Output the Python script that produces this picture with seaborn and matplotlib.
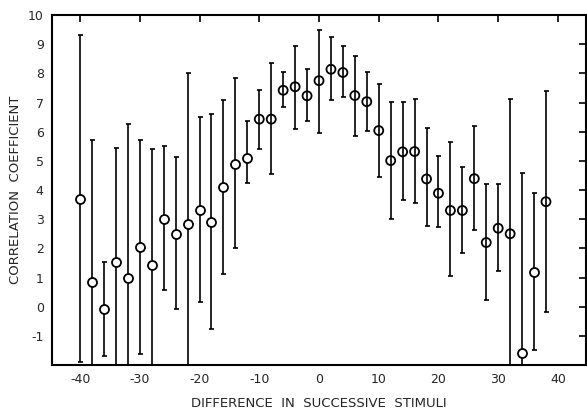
import numpy as np
import matplotlib
matplotlib.use("Agg")
import matplotlib.pyplot as plt
import seaborn as sns
import pandas as pd

# stimulus difference (x), correlation coefficient (x10) and error bar ends
diff = list(range(-40, 40, 2))
corr = [3.7, 0.83, -0.07, 1.53, 1.0, 2.03, 1.43, 3.02, 2.5, 2.83,
        3.3, 2.91, 4.09, 4.9, 5.11, 6.43, 6.43, 7.42, 7.54, 7.23,
        7.75, 8.14, 8.03, 7.24, 7.03, 6.04, 5.01, 5.31, 5.32, 4.38,
        3.89, 3.3, 3.3, 4.39, 2.2, 2.69, 2.5, -1.6, 1.19, 3.6]
upper = [9.3, 5.7, 1.52, 5.45, 6.25, 5.7, 5.41, 5.51, 5.13, 8.0,
         6.5, 6.6, 7.1, 7.83, 6.35, 7.44, 8.35, 8.05, 8.95, 8.15,
         9.5, 9.25, 8.95, 8.6, 8.05, 7.63, 7.03, 7.01, 7.12, 6.14,
         5.15, 5.63, 4.8, 6.21, 4.22, 4.22, 7.12, 4.59, 3.91, 7.4]
lower = [-1.9, -2.5, -1.68, -2.5, -2.5, -1.63, -2.5, 0.56, -0.07, -2.5,
         0.15, -0.76, 1.13, 2.02, 4.25, 5.42, 4.55, 6.86, 6.08, 6.38,
         5.97, 7.09, 7.18, 5.86, 6.03, 4.43, 3.02, 3.65, 3.54, 2.76,
         2.73, 1.04, 1.83, 2.64, 0.22, 1.23, -2.5, -2.5, -1.47, -0.17]

xticks = [-40, -30, -20, -10, 0, 10, 20, 30, 40]
xtick_labels = ["-40", "-30", "-20", "-10", "0", "10", "20", "30", "40"]
yticks = list(range(-1, 11))

df = pd.DataFrame({"diff": diff, "corr": corr, "upper": upper, "lower": lower})
# in the scan the bar shows through most circles in the middle part
see_through = ((df["diff"] >= -10) & (df["diff"] <= 32)) | (df["diff"] == 38)

sns.set_style("white")
plt.rcParams["font.family"] = ["DejaVu Sans"]

fig = plt.figure(figsize=(5.87, 4.12), dpi=100)
ax = fig.add_axes([0.0886, 0.114, 0.9097, 0.8495])

yerr = np.vstack([df["corr"] - df["lower"], df["upper"] - df["corr"]])
ax.errorbar(df["diff"], df["corr"], yerr=yerr, fmt="none", ecolor="black",
            elinewidth=1.2, capsize=1.8, capthick=1.2, zorder=2)
sns.scatterplot(data=df[~see_through], x="diff", y="corr", ax=ax, marker="o", s=42,
                facecolor="white", edgecolor="black", linewidth=1.3, zorder=3)
sns.scatterplot(data=df[see_through], x="diff", y="corr", ax=ax, marker="o", s=42,
                facecolor="none", edgecolor="black", linewidth=1.3, zorder=3)

ax.set_xlim(-44.7, 44.7)
ax.set_ylim(-2, 10)
ax.set_xticks(xticks)
ax.set_xticklabels(xtick_labels)
ax.set_yticks(yticks)
ax.set_yticklabels([str(v) for v in yticks])
ax.tick_params(direction="in", length=5, width=1.2, labelsize=9,
               top=True, right=True, color="black", pad=6)
ax.tick_params(axis="y", right=True, labelright=False)
for s in ax.spines.values():
    s.set_color("black")
    s.set_linewidth(1.5)

ax.set_xlabel("DIFFERENCE  IN  SUCCESSIVE  STIMULI", fontsize=9.5, labelpad=8)
ax.set_ylabel("CORRELATION  COEFFICIENT", fontsize=9.5, labelpad=4)

fig.savefig("out.png", dpi=100)
